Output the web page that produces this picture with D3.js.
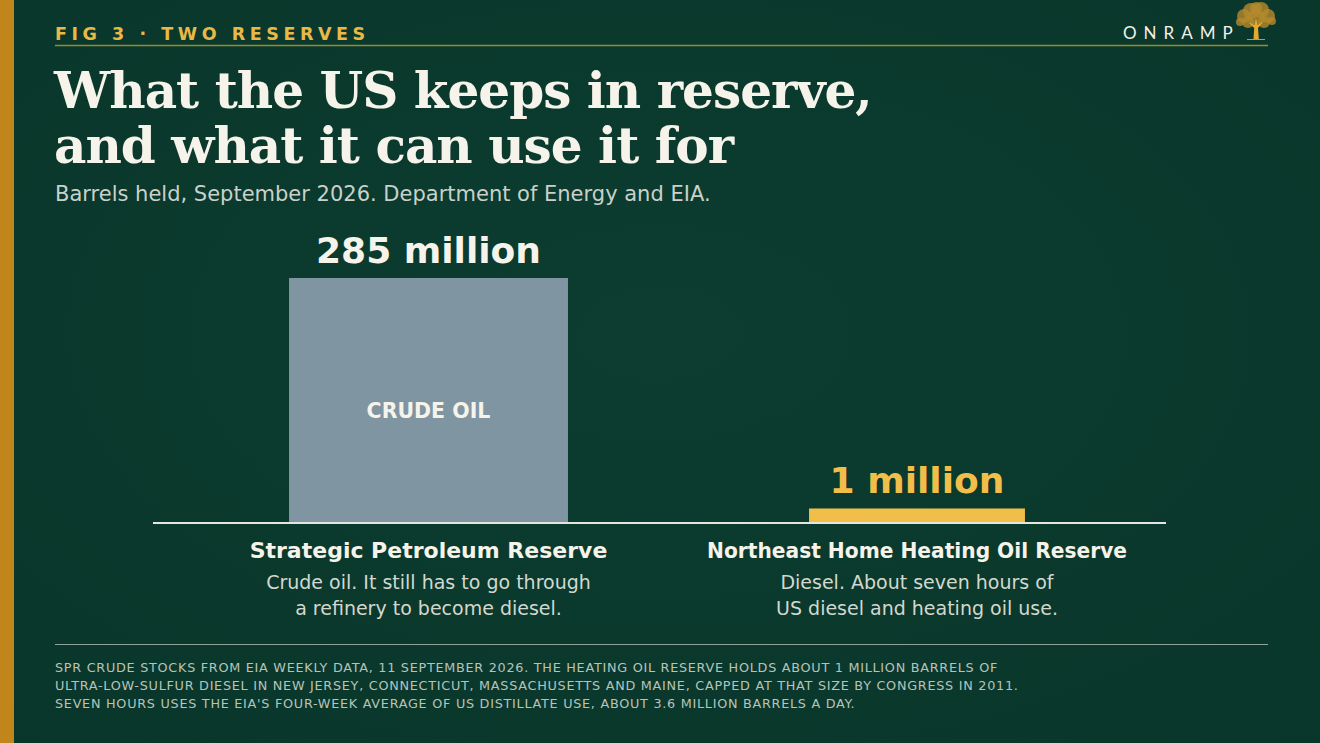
<!DOCTYPE html>
<html>
<head>
<meta charset="utf-8">
<script src="https://cdn.jsdelivr.net/npm/d3@7"></script>
<style>
  html, body { margin: 0; padding: 0; background: #0b3a2d; }
  svg { display: block; }
</style>
</head>
<body>
<svg id="chart" width="1320" height="743"></svg>
<script>
// ---- data ----
const categories = ["Strategic Petroleum Reserve", "Northeast Home Heating Oil Reserve"];
const values = [285, 1]; // million barrels
const valueLabels = ["285 million", "1 million"];
const barTags = ["CRUDE OIL", ""];
const descriptions = [
  ["Crude oil. It still has to go through", "a refinery to become diesel."],
  ["Diesel. About seven hours of", "US diesel and heating oil use."]
];
const kicker = "FIG 3 \u00B7 TWO RESERVES";
const titleLines = ["What the US keeps in reserve,", "and what it can use it for"];
const subtitle = "Barrels held, September 2026. Department of Energy and EIA.";
const footnoteLines = [
  "SPR CRUDE STOCKS FROM EIA WEEKLY DATA, 11 SEPTEMBER 2026. THE HEATING OIL RESERVE HOLDS ABOUT 1 MILLION BARRELS OF",
  "ULTRA-LOW-SULFUR DIESEL IN NEW JERSEY, CONNECTICUT, MASSACHUSETTS AND MAINE, CAPPED AT THAT SIZE BY CONGRESS IN 2011.",
  "SEVEN HOURS USES THE EIA'S FOUR-WEEK AVERAGE OF US DISTILLATE USE, ABOUT 3.6 MILLION BARRELS A DAY."
];

// ---- styles ----
const barFill = ["#7f96a2", "#f1bf49"];
const valueFill = ["#f6f3ea", "#f1bf49"];
const barWidthFrac = [0.571, 0.442];
const sans = "'DejaVu Sans', 'Noto Sans', sans-serif";

const svg = d3.select("#chart");

// background
svg.append("rect").attr("width", 1320).attr("height", 743).attr("fill", "#0b3a2d");
const defs = svg.append("defs");
const rg = defs.append("radialGradient").attr("id", "vig").attr("cx", "50%").attr("cy", "45%").attr("r", "75%");
rg.append("stop").attr("offset", "0%").attr("stop-color", "#0c3d30");
rg.append("stop").attr("offset", "100%").attr("stop-color", "#09362a");
svg.append("rect").attr("width", 1320).attr("height", 743).attr("fill", "url(#vig)");

// left gold stripe
svg.append("rect").attr("x", 0).attr("y", 0).attr("width", 14).attr("height", 743).attr("fill", "#c0861b");

// header
svg.append("text").attr("x", 55).attr("y", 40)
  .attr("font-family", sans).attr("font-weight", "bold").attr("font-size", 17.5)
  .attr("letter-spacing", 4.55).attr("fill", "#e9b947").text(kicker);
svg.append("line").attr("x1", 55).attr("x2", 1268).attr("y1", 45.5).attr("y2", 45.5)
  .attr("stroke", "#9a8a2c").attr("stroke-width", 1.5);

// logo
svg.append("text").attr("x", 1123).attr("y", 39)
  .attr("font-family", "Lato, 'Open Sans', sans-serif").attr("font-size", 17)
  .attr("letter-spacing", 7).attr("fill", "#f4f1ea").text("ONRAMP");
const tree = svg.append("g").attr("transform", "translate(1256,20)");
[[-12,-4,7],[-5,-9,8],[5,-10,8],[12,-4,7],[-16,2,4],[16,1,4],[0,-3,8],[-8,2,6],[8,2,6],[0,-12,6]].forEach(([cx, cy, r]) => {
  tree.append("circle").attr("cx", cx).attr("cy", cy).attr("r", r).attr("fill", "#b58a2c").attr("opacity", 0.8);
});
tree.append("path").attr("d", "M-2.5,19 L-1.8,8 L-8,2 L-1.5,5 L0,-2 L1.5,5 L8,1 L2,8 L2.8,19 Z").attr("fill", "#e6a92e");
tree.append("line").attr("x1", -9).attr("x2", 9).attr("y1", 19.5).attr("y2", 19.5).attr("stroke", "#c99a30").attr("stroke-width", 1);

// title: fit first line to target width
const title = svg.append("text").attr("font-family", "'DejaVu Serif', 'Liberation Serif', serif")
  .attr("font-weight", "bold").attr("font-size", 50).attr("fill", "#f6f3ea").attr("letter-spacing", -1);
const tspans = titleLines.map((t, i) => title.append("tspan").attr("x", 54).attr("y", 108 + i * 55).text(t));
const w0 = tspans[0].node().getComputedTextLength();
title.attr("font-size", 50 * 818 / w0);

svg.append("text").attr("x", 55).attr("y", 201)
  .attr("font-family", sans).attr("font-size", 21).attr("fill", "#c9d1ca").text(subtitle);

// ---- scales ----
const x = d3.scaleBand().domain(categories).range([184.25, 1161.25]).padding(0);
const y = d3.scaleSqrt().domain([0, 285]).range([523, 278]);
const cx = c => x(c) + x.bandwidth() / 2;

// bars
svg.append("g").selectAll("rect").data(categories).join("rect")
  .attr("x", (c, i) => cx(c) - x.bandwidth() * barWidthFrac[i] / 2)
  .attr("width", (c, i) => x.bandwidth() * barWidthFrac[i])
  .attr("y", (c, i) => y(values[i]))
  .attr("height", (c, i) => y(0) - y(values[i]))
  .attr("fill", (c, i) => barFill[i]);

// value labels
svg.append("g").selectAll("text").data(categories).join("text")
  .attr("x", c => cx(c)).attr("y", (c, i) => y(values[i]) - 15)
  .attr("text-anchor", "middle").attr("font-family", sans).attr("font-weight", "bold")
  .attr("font-size", 36).attr("fill", (c, i) => valueFill[i]).text((c, i) => valueLabels[i]);

// tags inside bar
svg.append("g").selectAll("text").data(categories.filter((c, i) => barTags[i])).join("text")
  .attr("x", c => cx(c))
  .attr("y", c => { const i = categories.indexOf(c); return (y(values[i]) + y(0)) / 2 + 17; })
  .attr("text-anchor", "middle").attr("font-family", sans).attr("font-weight", "bold")
  .attr("font-size", 20.5).attr("fill", "#f6f3ea").text(c => barTags[categories.indexOf(c)]);

// baseline
svg.append("line").attr("x1", 153).attr("x2", 1166).attr("y1", y(0)).attr("y2", y(0))
  .attr("stroke", "#e4e6df").attr("stroke-width", 2);

// category labels (fit to max width)
svg.append("g").selectAll("text").data(categories).join("text")
  .attr("x", c => cx(c)).attr("y", 558).attr("text-anchor", "middle")
  .attr("font-family", sans).attr("font-weight", "bold").attr("font-size", 22)
  .attr("fill", "#f6f3ea").text(c => c)
  .each(function() {
    const w = this.getComputedTextLength();
    if (w > 420) d3.select(this).attr("textLength", 420).attr("lengthAdjust", "spacingAndGlyphs");
  });

const desc = svg.append("g").selectAll("text").data(categories).join("text")
  .attr("text-anchor", "middle").attr("font-family", sans).attr("font-size", 19)
  .attr("fill", "#d3d8cf");
desc.each(function(c, i) {
  d3.select(this).selectAll("tspan").data(descriptions[i]).join("tspan")
    .attr("x", cx(c)).attr("y", (d, j) => 589 + j * 25.5).text(d => d);
});

// footer
svg.append("line").attr("x1", 55).attr("x2", 1268).attr("y1", 644.5).attr("y2", 644.5)
  .attr("stroke", "#8fa396").attr("stroke-width", 1.2);
const foot = svg.append("text").attr("font-family", sans).attr("font-size", 12.8)
  .attr("letter-spacing", 0.72).attr("fill", "#b7c3ba");
footnoteLines.forEach((t, i) => foot.append("tspan").attr("x", 55).attr("y", 672 + i * 18).text(t));
</script>
</body>
</html>
